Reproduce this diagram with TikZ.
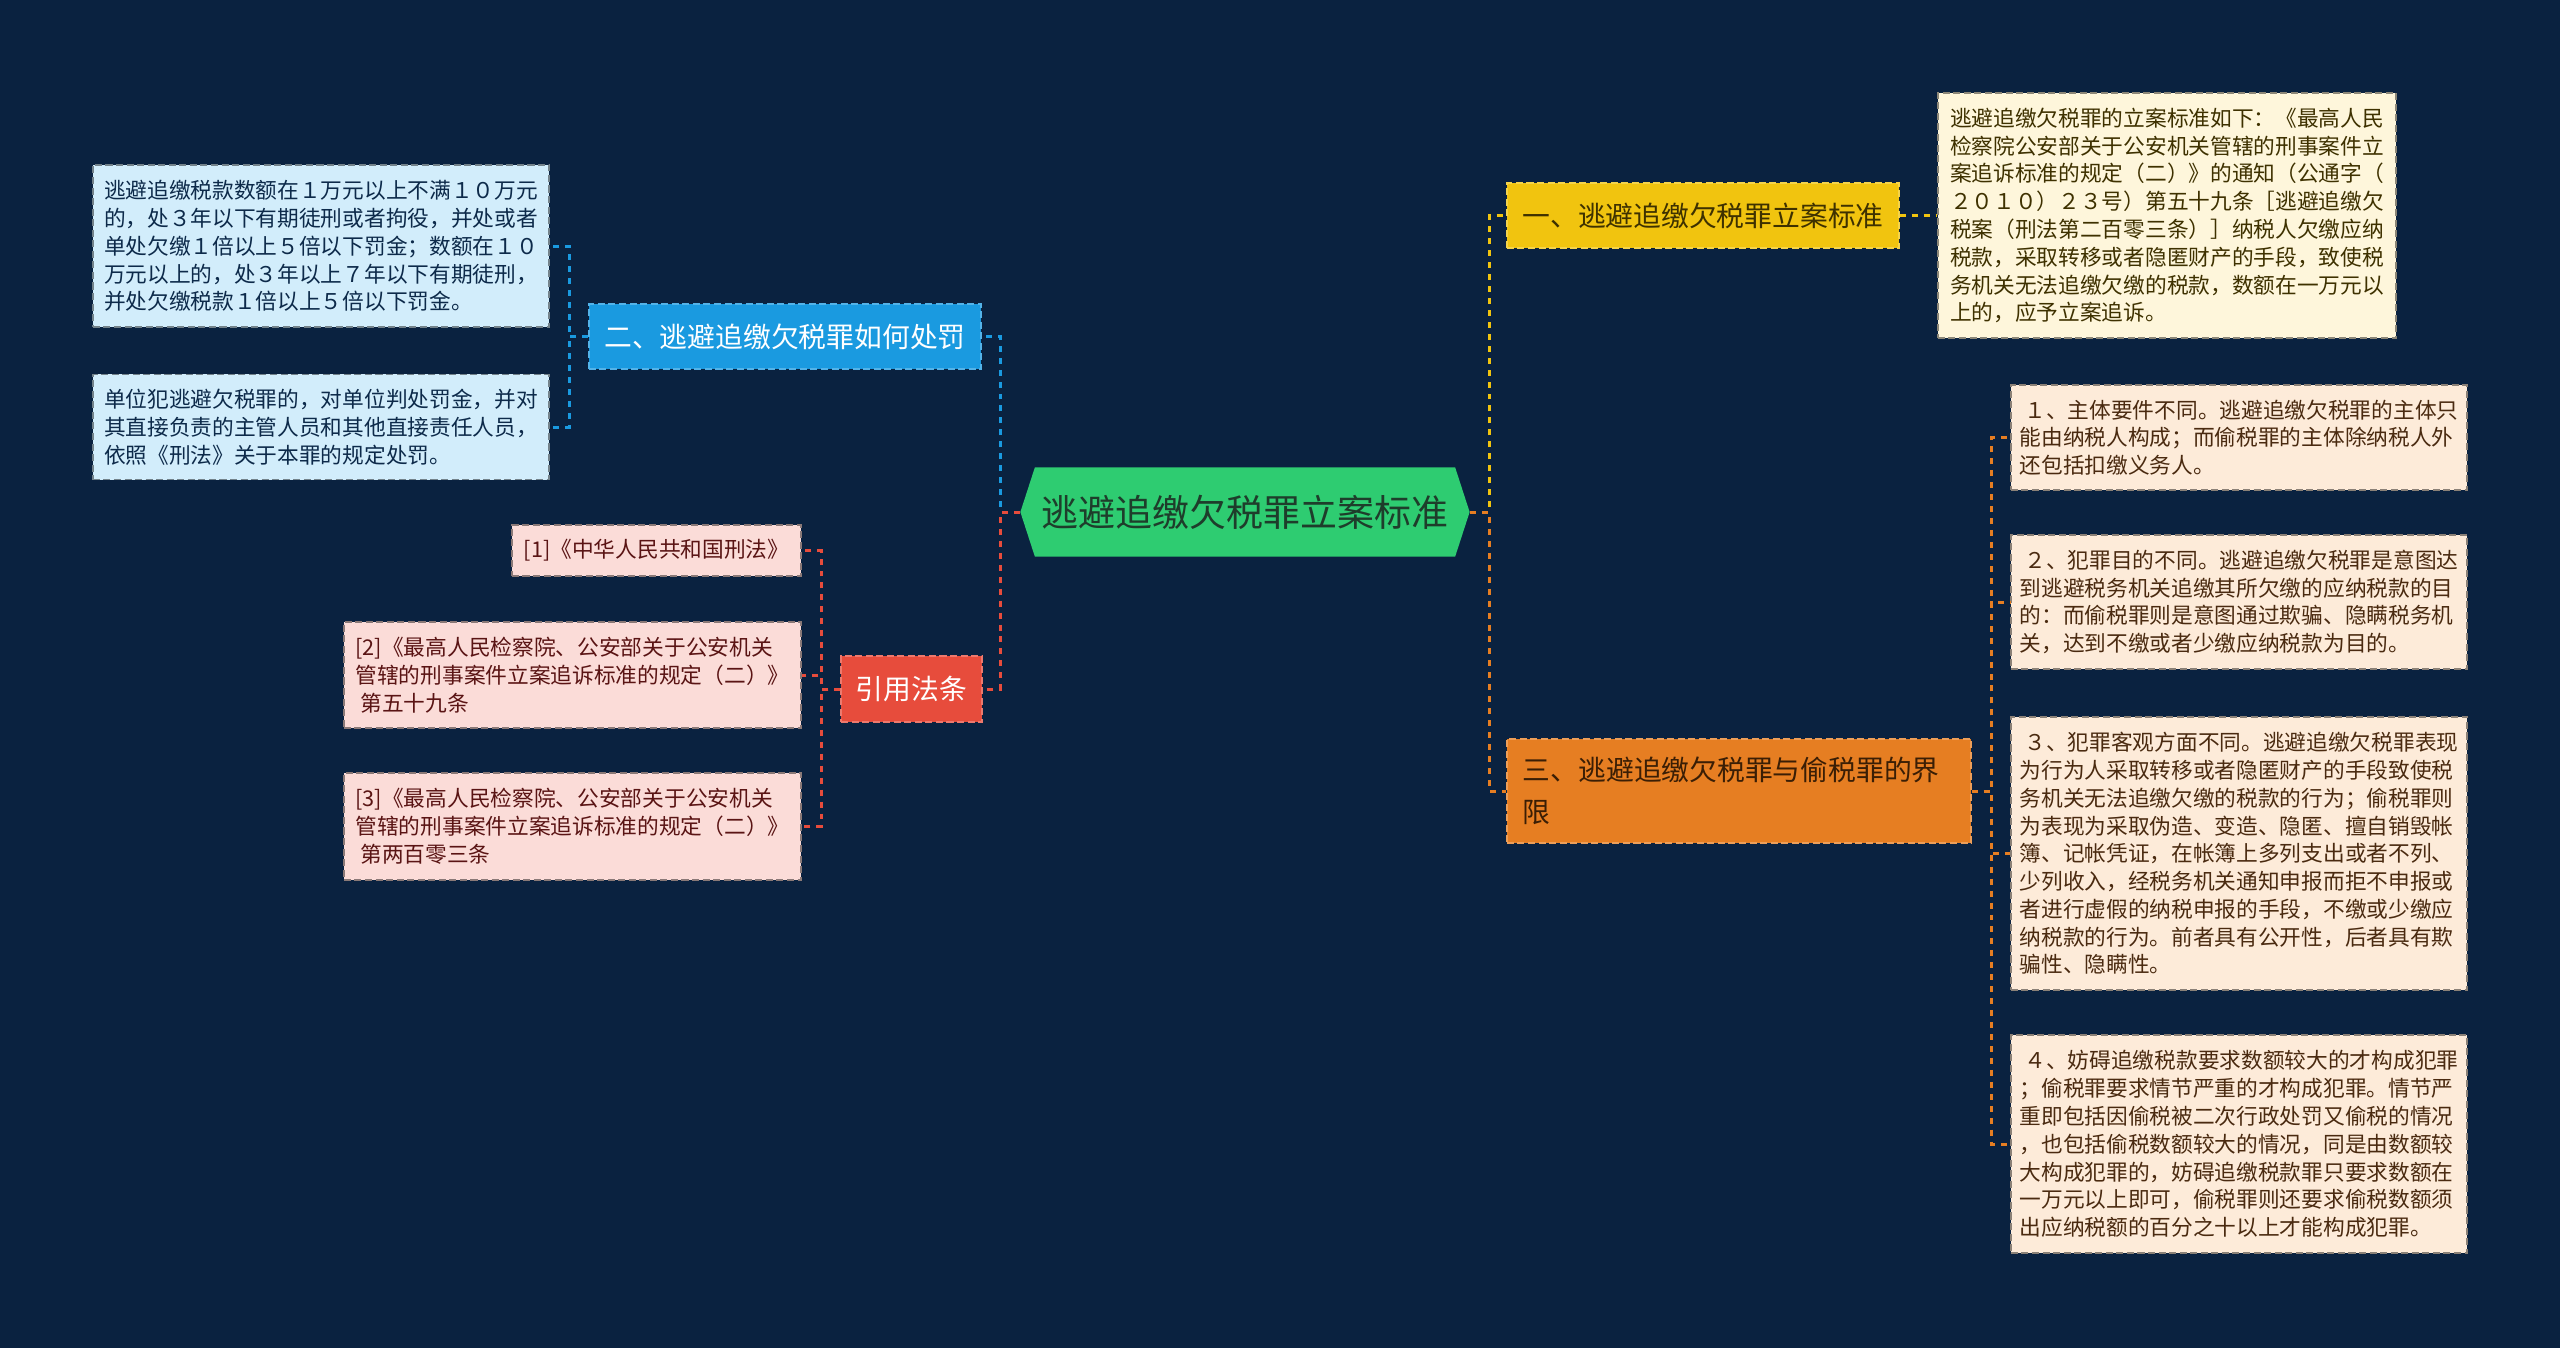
\documentclass[tikz,border=0pt]{standalone}
\usepackage{fontspec}
\setmainfont{Noto Sans CJK SC}
\usetikzlibrary{shapes.symbols}
\definecolor{fundo}{HTML}{0A2240}
\definecolor{verde}{HTML}{2ECC71}
\definecolor{verdeesc}{HTML}{1E3D2B}
\definecolor{azul}{HTML}{1A9AE0}
\definecolor{azulclaro}{HTML}{D2EDFB}
\definecolor{azultxt}{HTML}{0D2A4A}
\definecolor{verm}{HTML}{E74C3C}
\definecolor{rosa}{HTML}{FBDCD8}
\definecolor{rosatxt}{HTML}{5A1414}
\definecolor{amarelo}{HTML}{F1C40F}
\definecolor{amareloesc}{HTML}{3E3100}
\definecolor{creme}{HTML}{FEF6DB}
\definecolor{laranja}{HTML}{E67E22}
\definecolor{laranjaesc}{HTML}{3A1E05}
\definecolor{pessego}{HTML}{FDEBD9}
\definecolor{marrom}{HTML}{4A2A10}

\begin{document}
\begin{tikzpicture}[x=0.01cm, y=-0.01cm,
  centro/.style={shape=signal, signal to=west and east, signal pointer angle=144,
                 fill=verde, text=verdeesc, minimum width=4.49cm, minimum height=0.89cm,
                 inner sep=0pt, font=\fontsize{10.5}{12}\selectfont},
  ramo/.style 2 args={rectangle, fill=#1, draw=#1!75!white, dash pattern=on 2pt off 1pt,
                 line width=0.4pt, text=#2, inner sep=0pt, align=left,
                 font=\fontsize{7.9}{11.9}\selectfont},
  folha/.style 2 args={rectangle, fill=#1, draw=#1!55!black, dash pattern=on 2pt off 1pt,
                 line width=0.4pt, text=#2, inner sep=0pt, align=left,
                 font=\fontsize{6.17}{7.9}\selectfont},
  liga/.style={draw=#1, line width=0.85pt, dash pattern=on 1.7pt off 1.7pt}
]
\useasboundingbox (0,0) rectangle (2560,1347);
\fill[fundo] (-10,-10) rectangle (2570,1357);

\node[centro] (c) at (1245,512) {逃避追缴欠税罪立案标准};

% ramos
\node[ramo={azul}{white}, minimum width=3.92cm, minimum height=0.65cm] (b2) at (785,336.5)
  {二、逃避追缴欠税罪如何处罚};
\node[ramo={verm}{white}, minimum width=1.41cm, minimum height=0.66cm] (b4) at (911.5,689)
  {引用法条};
\node[ramo={amarelo}{amareloesc}, minimum width=3.92cm, minimum height=0.65cm] (b1) at (1703,215.5)
  {一、逃避追缴欠税罪立案标准};
\node[ramo={laranja}{laranjaesc}, minimum width=4.64cm, minimum height=1.04cm, text width=4.32cm] (b3) at (1739,791)
  {三、逃避追缴欠税罪与偷税罪的界\\限};

% folhas
\node[folha={creme}{amareloesc}, minimum width=4.58cm, minimum height=2.45cm] (a1) at (2167,215.5)
  {逃避追缴欠税罪的立案标准如下：《最高人民\\检察院公安部关于公安机关管辖的刑事案件立\\案追诉标准的规定（二）》的通知（公通字（\\２０１０）２３号）第五十九条［逃避追缴欠\\税案（刑法第二百零三条）］纳税人欠缴应纳\\税款，采取转移或者隐匿财产的手段，致使税\\务机关无法追缴欠缴的税款，数额在一万元以\\上的，应予立案追诉。};
\node[folha={azulclaro}{azultxt}, minimum width=4.56cm, minimum height=1.62cm] (e1) at (321,246)
  {逃避追缴税款数额在１万元以上不满１０万元\\的，处３年以下有期徒刑或者拘役，并处或者\\单处欠缴１倍以上５倍以下罚金；数额在１０\\万元以上的，处３年以上７年以下有期徒刑，\\并处欠缴税款１倍以上５倍以下罚金。};
\node[folha={azulclaro}{azultxt}, minimum width=4.56cm, minimum height=1.05cm] (e2) at (321,427)
  {单位犯逃避欠税罪的，对单位判处罚金，并对\\其直接负责的主管人员和其他直接责任人员，\\依照《刑法》关于本罪的规定处罚。};
\node[folha={rosa}{rosatxt}, minimum width=2.89cm, minimum height=0.51cm] (p1) at (656.5,550.5)
  {[1]《中华人民共和国刑法》};
\node[folha={rosa}{rosatxt}, minimum width=4.57cm, minimum height=1.06cm] (p2) at (572.5,675)
  {[2]《最高人民检察院、公安部关于公安机关\\管辖的刑事案件立案追诉标准的规定（二）》\\~第五十九条};
\node[folha={rosa}{rosatxt}, minimum width=4.57cm, minimum height=1.07cm] (p3) at (572.5,826.5)
  {[3]《最高人民检察院、公安部关于公安机关\\管辖的刑事案件立案追诉标准的规定（二）》\\~第两百零三条};
\node[folha={pessego}{marrom}, minimum width=4.56cm, minimum height=1.05cm] (f1) at (2239,437.5)
  {~１、主体要件不同。逃避追缴欠税罪的主体只\\能由纳税人构成；而偷税罪的主体除纳税人外\\还包括扣缴义务人。};
\node[folha={pessego}{marrom}, minimum width=4.56cm, minimum height=1.34cm] (f2) at (2239,602)
  {~２、犯罪目的不同。逃避追缴欠税罪是意图达\\到逃避税务机关追缴其所欠缴的应纳税款的目\\的：而偷税罪则是意图通过欺骗、隐瞒税务机\\关，达到不缴或者少缴应纳税款为目的。};
\node[folha={pessego}{marrom}, minimum width=4.56cm, minimum height=2.73cm] (f3) at (2239,853.5)
  {~３、犯罪客观方面不同。逃避追缴欠税罪表现\\为行为人采取转移或者隐匿财产的手段致使税\\务机关无法追缴欠缴的税款的行为；偷税罪则\\为表现为采取伪造、变造、隐匿、擅自销毁帐\\簿、记帐凭证，在帐簿上多列支出或者不列、\\少列收入，经税务机关通知申报而拒不申报或\\者进行虚假的纳税申报的手段，不缴或少缴应\\纳税款的行为。前者具有公开性，后者具有欺\\骗性、隐瞒性。};
\node[folha={pessego}{marrom}, minimum width=4.56cm, minimum height=2.18cm] (f4) at (2239,1144)
  {~４、妨碍追缴税款要求数额较大的才构成犯罪\\；偷税罪要求情节严重的才构成犯罪。情节严\\重即包括因偷税被二次行政处罚又偷税的情况\\，也包括偷税数额较大的情况，同是由数额较\\大构成犯罪的，妨碍追缴税款罪只要求数额在\\一万元以上即可，偷税罪则还要求偷税数额须\\出应纳税额的百分之十以上才能构成犯罪。};

% ligacoes
\draw[liga=azul] (c.west) -- ++(-19,0) |- (b2.east);
\draw[liga=verm] (c.west) -- ++(-19,0) |- (b4.east);
\draw[liga=amarelo] (c.east) -- ++(19,0) |- (b1.west);
\draw[liga=laranja] (c.east) -- ++(19,0) |- (b3.west);
\draw[liga=azul] (b2.west) -- ++(-19,0) |- (e1.east);
\draw[liga=azul] (b2.west) -- ++(-19,0) |- (e2.east);
\draw[liga=verm] (b4.west) -- ++(-19,0) |- (p1.east);
\draw[liga=verm] (b4.west) -- ++(-19,0) |- (p2.east);
\draw[liga=verm] (b4.west) -- ++(-19,0) |- (p3.east);
\draw[liga=amarelo] (b1.east) -- (a1.west);
\draw[liga=laranja] (b3.east) -- ++(20,0) |- (f1.west);
\draw[liga=laranja] (b3.east) -- ++(20,0) |- (f2.west);
\draw[liga=laranja] (b3.east) -- ++(20,0) |- (f3.west);
\draw[liga=laranja] (b3.east) -- ++(20,0) |- (f4.west);
\end{tikzpicture}
\end{document}
